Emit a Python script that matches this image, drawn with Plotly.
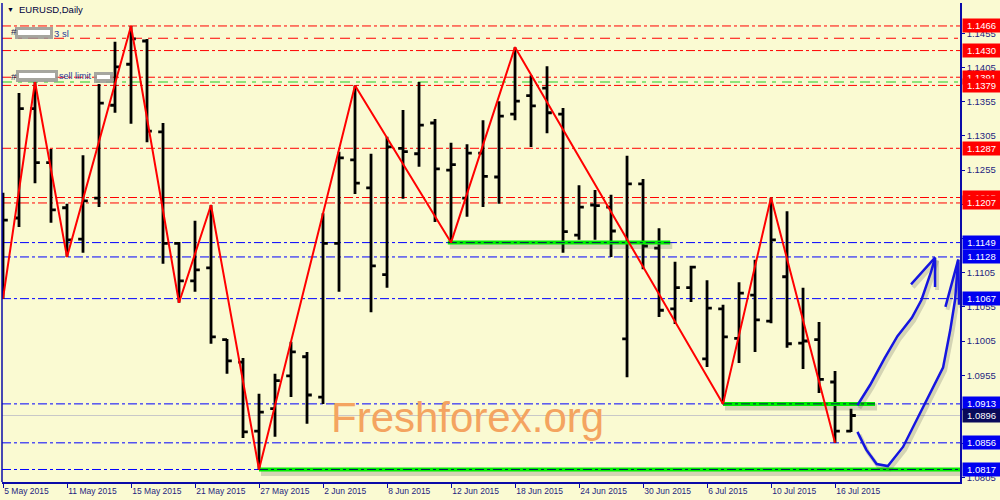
import plotly.graph_objects as go

# EURUSD daily bars, 5 May - 17 Jul 2015 (one entry per trading day)
open_ = [1.1138, 1.1185, 1.1345, 1.1266, 1.1200, 1.1154, 1.1214, 1.1350, 1.1410, 1.1444,
         1.1311, 1.1148, 1.1093, 1.1112, 1.1007, 1.0974, 1.0873, 1.0906, 1.0954, 1.0982,
         1.0923, 1.1148, 1.1270, 1.1229, 1.1102, 1.1287, 1.1279, 1.1324, 1.1255, 1.1214,
         1.1280, 1.1245, 1.1337, 1.1364, 1.1375, 1.1337, 1.1160, 1.1204, 1.1201, 1.1008,
         1.1235, 1.1141, 1.1052, 1.1083, 1.0979, 1.1052, 1.1009, 1.1072, 1.1034, 1.1099,
         1.1002, 1.1007, 1.0945, 1.0873]
high = [1.1222, 1.1368, 1.1384, 1.1286, 1.1206, 1.1277, 1.1381, 1.1443, 1.1466, 1.1447,
        1.1324, 1.1150, 1.1181, 1.1204, 1.1008, 1.0980, 1.0928, 1.0957, 1.1004, 1.0989,
        1.1192, 1.1282, 1.1379, 1.1279, 1.1304, 1.1343, 1.1384, 1.1330, 1.1295, 1.1293,
        1.1328, 1.1356, 1.1435, 1.1394, 1.1407, 1.1346, 1.1233, 1.1226, 1.1219, 1.1276,
        1.1242, 1.1170, 1.1121, 1.1115, 1.1094, 1.1058, 1.1091, 1.1124, 1.1215, 1.1195,
        1.1083, 1.1033, 1.0961, 1.0906]
low = [1.1067, 1.1172, 1.1236, 1.1178, 1.1128, 1.1134, 1.1201, 1.1339, 1.1323, 1.1296,
       1.1118, 1.1061, 1.1077, 1.1001, 1.0957, 1.0863, 1.0817, 1.0865, 1.0923, 1.0884,
       1.0913, 1.1077, 1.1220, 1.1047, 1.1083, 1.1213, 1.1260, 1.1179, 1.1149, 1.1187,
       1.1201, 1.1206, 1.1328, 1.1289, 1.1309, 1.1134, 1.1153, 1.1153, 1.1128, 1.0952,
       1.1110, 1.1040, 1.1030, 1.1062, 1.0967, 1.0913, 1.0973, 1.0989, 1.1031, 1.0995,
       1.0964, 1.0929, 1.0856, 1.0872]
close = [1.1182, 1.1345, 1.1266, 1.1197, 1.1153, 1.1210, 1.1353, 1.1406, 1.1447, 1.1312,
         1.1148, 1.1093, 1.1109, 1.1011, 1.0976, 1.0872, 1.0901, 1.0947, 1.0989, 1.0926,
         1.1148, 1.1273, 1.1236, 1.1115, 1.1289, 1.1282, 1.1321, 1.1257, 1.1263, 1.1280,
         1.1246, 1.1334, 1.1356, 1.1349, 1.1339, 1.1165, 1.1201, 1.1203, 1.1166, 1.1235,
         1.1144, 1.1050, 1.1083, 1.1113, 1.1053, 1.1011, 1.1075, 1.1036, 1.1153, 1.1001,
         1.1005, 1.0949, 1.0873, 1.0896]

tick_bars = [0, 4, 8, 12, 16, 20, 24, 28, 32, 36, 40, 44, 48, 52]
tick_labels = ["5 May 2015", "11 May 2015", "15 May 2015", "21 May 2015", "27 May 2015",
               "2 Jun 2015", "8 Jun 2015", "12 Jun 2015", "18 Jun 2015", "24 Jun 2015",
               "30 Jun 2015", "6 Jul 2015", "10 Jul 2015", "16 Jul 2015"]

# zigzag swing points (bar index, L = low / H = high)
zz_bars = [0, 2, 4, 8, 11, 13, 16, 22, 28, 32, 45, 48, 52]
zz_kind = ["L", "H", "L", "H", "L", "H", "L", "H", "L", "H", "L", "H", "L"]

# horizontal levels
red_levels = [1.1466, 1.1430, 1.1391, 1.1379, 1.1287, 1.1215, 1.1207]
blue_levels = [1.1149, 1.1128, 1.1067, 1.0913, 1.0856, 1.0817]
sl_level = 1.1448
sell_limit_level = 1.1384
bid = 1.0896

# green support segments: start bar, end bar, price
green_start = [27.8, 45.0, 16.0]
green_end = [41.7, 54.5, 59.9]
green_price = [1.1149, 1.0913, 1.0817]

# hand drawn blue arrows (bar index, price)
arrow1_x = [53.4, 54.2, 55.1, 55.9, 56.8, 57.4, 58.0, 58.25]
arrow1_y = [1.0911, 1.0941, 1.0980, 1.1012, 1.1039, 1.1065, 1.1106, 1.1127]
head1_x = [56.75, 58.25, 58.25]
head1_y = [1.1088, 1.1127, 1.1084]
arrow2_x = [53.4, 53.95, 54.6, 55.3, 56.25, 57.5, 58.75, 59.2, 59.5, 59.7]
arrow2_y = [1.0872, 1.0846, 1.0825, 1.0822, 1.0850, 1.0909, 1.0966, 1.1021, 1.1065, 1.1124]
head2_x = [58.9, 59.7, 59.75]
head2_y = [1.1055, 1.1124, 1.1058]

BG = "#FAFAD2"
AXIS = "#0A0AA8"
TXT = "#1E1E80"
FONT = "Liberation Sans, Arial, sans-serif"

W, H = 1000, 500
PL, PR, PT, PB = 2, 960, 3, 482
X_RANGE = [-0.0625, 59.81]
Y_RANGE = [1.07987, 1.14996]
# pixel -> data offsets for shadows
DX = (X_RANGE[1] - X_RANGE[0]) / (PR - PL)
DY = (Y_RANGE[1] - Y_RANGE[0]) / (PB - PT)

bars = list(range(len(open_)))

fig = go.Figure()

# level lines
for p in red_levels:
    fig.add_hline(y=p, line=dict(color="#FF0000", width=1, dash="9px,3px,3px,3px"), layer="below")
for p in blue_levels:
    fig.add_hline(y=p, line=dict(color="#0000FF", width=1, dash="9px,3px,3px,3px"), layer="below")
fig.add_hline(y=sl_level, line=dict(color="#FF0000", width=1, dash="10px,6px,4px,6px"), layer="below")
fig.add_hline(y=sell_limit_level, line=dict(color="#22CC22", width=1, dash="10px,6px,4px,6px"), layer="below")
fig.add_hline(y=bid, line=dict(color="#C8C8C8", width=1), layer="below")

# green segments with a soft shadow
for x0, x1, p in zip(green_start, green_end, green_price):
    fig.add_trace(go.Scatter(x=[x0 + 2 * DX, x1 + 2 * DX], y=[p - 3 * DY, p - 3 * DY], mode="lines",
                             line=dict(color="rgba(60,60,60,0.2)", width=7), hoverinfo="skip"))
    fig.add_trace(go.Scatter(x=[x0, x1], y=[p, p], mode="lines",
                             line=dict(color="#00EE00", width=4), hoverinfo="skip"))
    fig.add_trace(go.Scatter(x=[x0, x1], y=[p, p], mode="lines",
                             line=dict(color="#002050", width=1, dash="9px,3px,3px,3px"), hoverinfo="skip"))

fig.add_trace(go.Ohlc(x=bars, open=open_, high=high, low=low, close=close,
                      increasing_line_color="black", decreasing_line_color="black",
                      line_width=2.8, tickwidth=0.3))

zz_y = [low[b] if k == "L" else high[b] for b, k in zip(zz_bars, zz_kind)]
fig.add_trace(go.Scatter(x=zz_bars, y=zz_y, mode="lines", line=dict(color="#FF0000", width=2),
                         hoverinfo="skip"))

# arrows, shadow first
for ax, ay in [(arrow1_x, arrow1_y), (head1_x, head1_y), (arrow2_x, arrow2_y), (head2_x, head2_y)]:
    fig.add_trace(go.Scatter(x=[v + 2 * DX for v in ax], y=[v - 3 * DY for v in ay], mode="lines",
                             line=dict(color="rgba(60,60,60,0.2)", width=4), hoverinfo="skip"))
for ax, ay in [(arrow1_x, arrow1_y), (head1_x, head1_y), (arrow2_x, arrow2_y), (head2_x, head2_y)]:
    fig.add_trace(go.Scatter(x=ax, y=ay, mode="lines", line=dict(color="#1515E0", width=2.5),
                             hoverinfo="skip"))

# left frame line
fig.add_shape(type="line", xref="paper", yref="paper", x0=0, x1=0, y0=0, y1=1,
              line=dict(color=AXIS, width=1.5))


def px_x(px):
    return (px - PL) / (PR - PL)


def px_y(py):
    return (PB - py) / (PB - PT)


def px_text(px, py, text, size=9.5, color=TXT, anchor="left"):
    fig.add_annotation(x=px_x(px), y=px_y(py), xref="paper", yref="paper", text=text,
                       showarrow=False, xanchor=anchor, yanchor="middle",
                       font=dict(family=FONT, size=size, color=color))


def px_box(x0, y0, x1, y1, color):
    fig.add_shape(type="rect", xref="paper", yref="paper", x0=px_x(x0), x1=px_x(x1),
                  y0=px_y(y1), y1=px_y(y0), fillcolor=color, line=dict(width=0))


# chart caption
px_text(5, 10, "▼", size=7, color="#000030")
px_text(17, 10, "EURUSD,Daily", size=9.5, color="#000040")

# censored order labels
px_text(9, 32, "#", color="#202050")
px_box(15, 27, 53, 39, "rgba(150,150,150,0.85)")
px_box(18, 30, 50, 35, "#FFFFFF")
px_text(52, 33, "3 sl", color="#2A3A9A")
px_text(9, 76, "#", color="#202050")
px_box(16, 70, 58, 82, "rgba(150,150,150,0.85)")
px_box(19, 73, 55, 78, "#FFFFFF")
px_text(57, 76, "sell limit", size=9, color="#2A3A9A")
px_box(94, 72, 113, 83, "rgba(150,150,150,0.85)")
px_box(97, 75, 110, 79, "#FFFFFF")

# watermark
px_text(467, 417, "Freshforex.org", size=42, color="#F4A460", anchor="center")

# price tags on the right axis
tags = [(p, "#FF0000") for p in red_levels] + [(p, "#0000F0") for p in blue_levels]
tags.append((bid, "#0A0A5A"))
for p, col in tags:
    fig.add_annotation(x=1, y=p, xref="paper", yref="y", text=f"{p:.4f}", showarrow=False,
                       xanchor="left", yanchor="middle", xshift=2, width=35, height=11,
                       borderpad=1, bgcolor=col, align="center",
                       font=dict(family=FONT, size=9.5, color="white"))

fig.update_layout(
    width=W, height=H,
    margin=dict(l=PL, r=W - PR, t=PT, b=H - PB),
    paper_bgcolor=BG, plot_bgcolor=BG,
    showlegend=False,
    hovermode=False,
)
fig.update_xaxes(range=X_RANGE, showgrid=False, zeroline=False, rangeslider_visible=False,
                 showline=True, linecolor=AXIS, linewidth=1.5,
                 tickmode="array", tickvals=tick_bars, ticktext=tick_labels,
                 ticks="outside", ticklen=4, tickcolor=AXIS, ticklabelposition="outside right",
                 tickfont=dict(family=FONT, size=8.5, color=TXT))
fig.update_yaxes(range=Y_RANGE, side="right", showgrid=False, zeroline=False,
                 showline=True, linecolor=AXIS, linewidth=1.5,
                 tick0=1.0805, dtick=0.005, tickformat=".4f",
                 ticks="outside", ticklen=3, tickcolor=AXIS,
                 tickfont=dict(family=FONT, size=9.5, color=TXT))

# the page body has a default margin; drop it so the figure sits at the window corner
fig.write_html("out.html", config={"displayModeBar": False},
               post_script="document.body.style.margin='0';")
